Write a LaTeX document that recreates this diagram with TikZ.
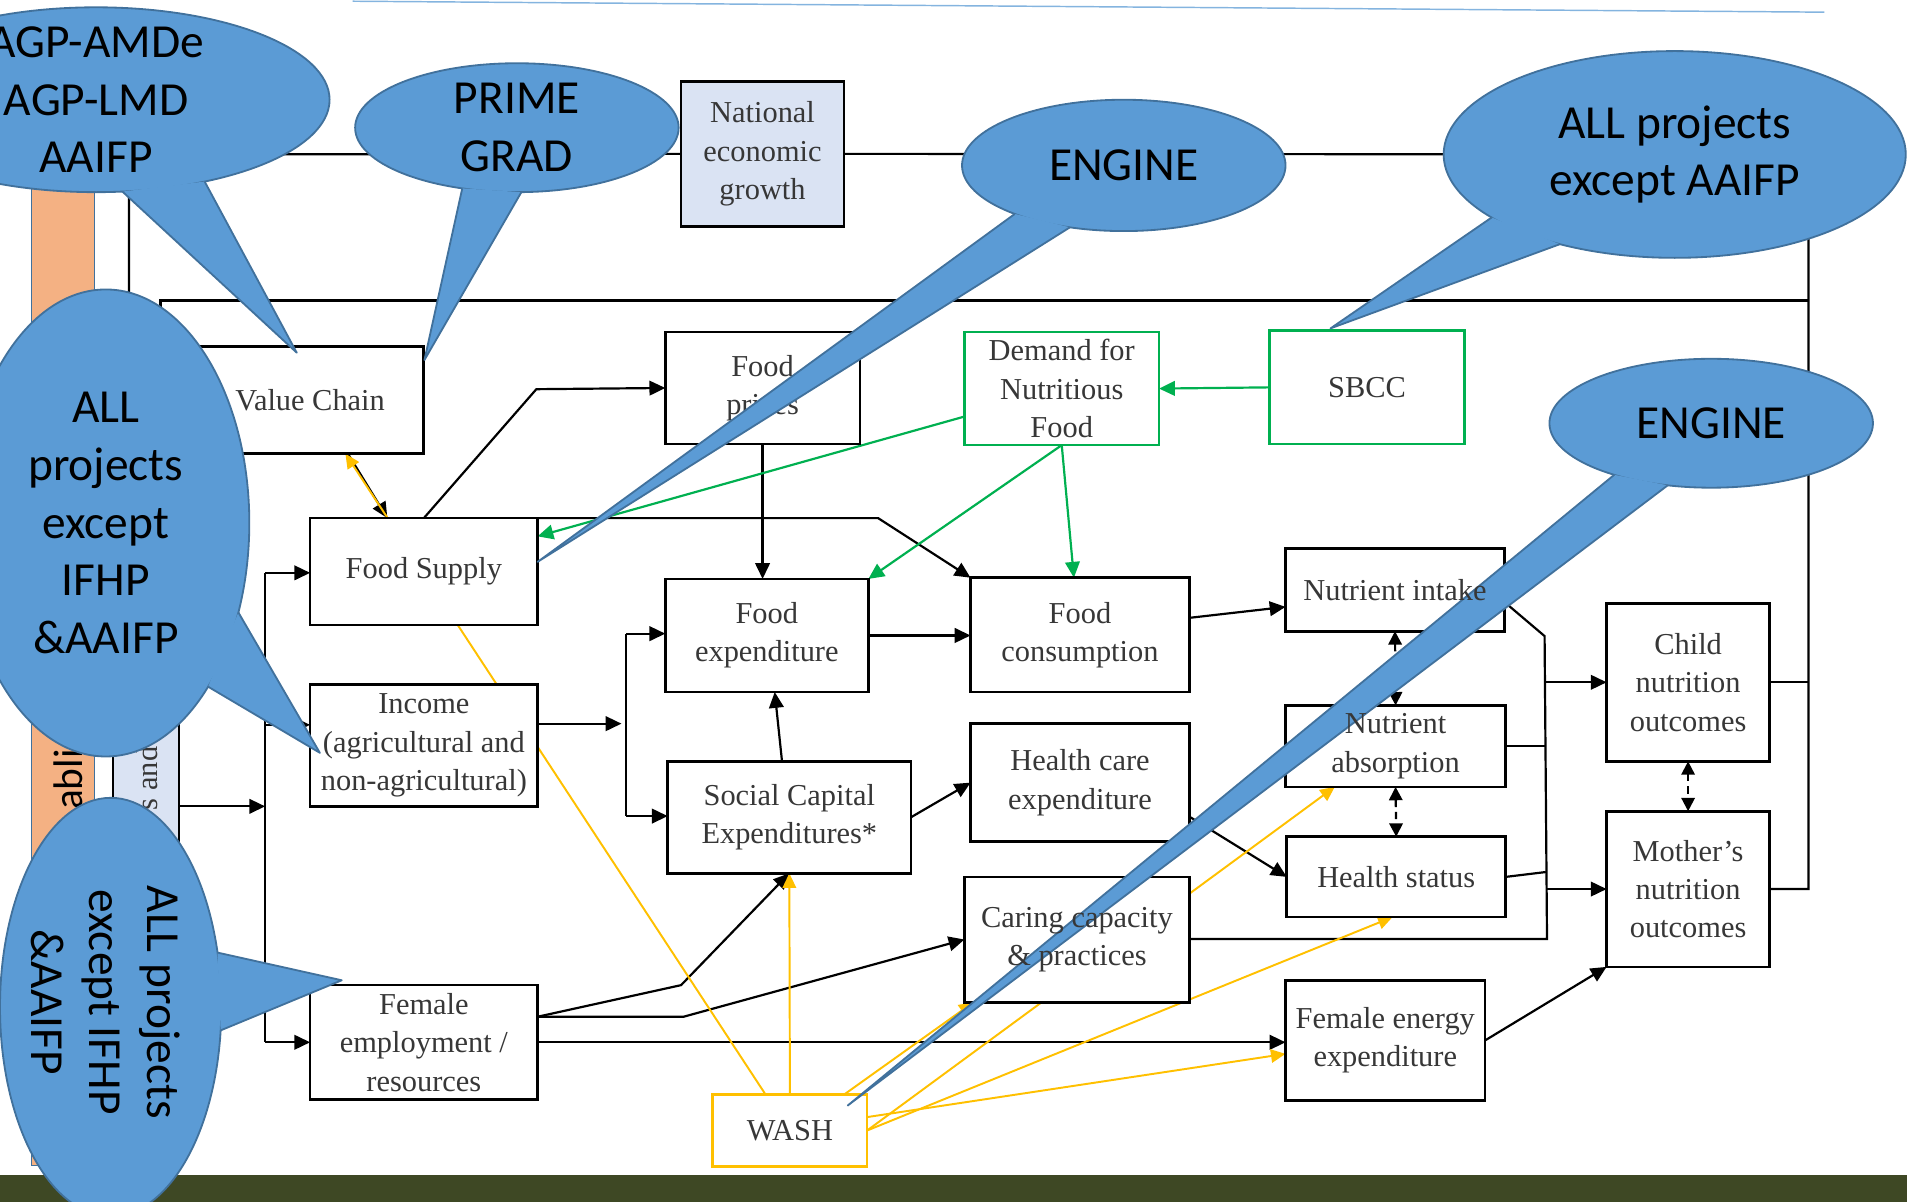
\documentclass[tikz,border=0pt]{standalone}
\usepackage{fontspec}
\setmainfont{Liberation Serif}
\newfontfamily\calloutfont{Carlito}
\usetikzlibrary{arrows.meta,shapes.geometric}
\pgfdeclarelayer{links}
\pgfsetlayers{links,main}
\definecolor{bubblefill}{RGB}{91,155,213}
\definecolor{bubbleline}{RGB}{65,113,156}
\definecolor{natblue}{RGB}{218,227,243}
\definecolor{barorange}{RGB}{244,177,131}
\definecolor{sbccgreen}{RGB}{0,176,80}
\definecolor{washgold}{RGB}{255,192,0}
\definecolor{boxtext}{RGB}{55,55,55}
\definecolor{groundolive}{RGB}{62,72,36}

\begin{document}
\begin{tikzpicture}[x=1pt, y=-1pt,
    box/.style={draw=black, line width=2.2pt, fill=white, align=center, text=boxtext,
      inner sep=0pt, outer sep=0pt, font=\fontsize{25}{31.5}\selectfont},
    boxlabel/.style={align=center, text=boxtext, inner sep=0pt, font=\fontsize{25}{31.5}\selectfont},
    greenbox/.style={box, draw=sbccgreen},
    washbox/.style={box, draw=washgold},
    plain/.style={line width=1.8pt},
    link/.style={plain, -{Triangle[length=13pt,width=12pt]}},
    greenlink/.style={link, draw=sbccgreen},
    washlink/.style={line width=1.6pt, draw=washgold, -{Triangle[length=12pt,width=11pt]}},
    twoway/.style={plain, dash pattern=on 6pt off 4pt,
      {Triangle[length=11pt,width=11pt]}-{Triangle[length=11pt,width=11pt]}},
    bubble/.style={ellipse, draw=bubbleline, line width=1.5pt, fill=bubblefill, inner sep=0pt, outer sep=0pt},
    bubbletext/.style={align=center, font=\calloutfont\fontsize{39}{47.5}\selectfont},
    pointeredge/.style={draw=bubbleline, line width=1.5pt, line join=round}]
  \useasboundingbox (0,0) rectangle (1568,988);
  \draw[bubblefill!75, line width=1.2pt] (290,1) -- (1500,10);
  \fill[groundolive] (0,966) rectangle (1568,988);

  \node[draw=bubbleline, line width=1pt, fill=barorange, minimum width=52pt, minimum height=838pt] (enablebar) at (52,539) {};
  \node[rotate=90, font=\calloutfont\fontsize{34}{40}\selectfont] (enabletext) at (56,641) {abli};
  \node[draw=black, line width=1.5pt, fill=natblue, minimum width=54pt, minimum height=360pt] (supportbar) at (120,580) {};
  \node[rotate=90, text=boxtext, font=\fontsize{25}{30}\selectfont] (supporttext) at (121,640) {s and};

  \node[box, fill=natblue, minimum width=134pt, minimum height=119pt] (natgrowth) at (627,126.5) {National\\economic\\growth};
  \node[box, minimum width=186pt, minimum height=88pt] (valuechain) at (255,329) {Value Chain};
  \node[box, minimum width=160pt, minimum height=92pt] (fprices) at (627,319) {Food\\prices};
  \node[greenbox, minimum width=160pt, minimum height=93pt] (demand) at (873,319.5) {Demand for\\Nutritious\\Food};
  \node[greenbox, minimum width=160pt, minimum height=93pt] (sbcc) at (1124,318.5) {SBCC};
  \node[box, minimum width=187pt, minimum height=88pt] (fsupply) at (348.5,470) {Food Supply};
  \node[box, minimum width=167pt, minimum height=93pt] (fexp) at (630.5,522.5) {Food\\expenditure};
  \node[box, minimum width=180pt, minimum height=94pt] (fcons) at (888,522) {Food\\consumption};
  \node[box, minimum width=180pt, minimum height=68pt] (nintake) at (1147,485) {};
  \node[box, minimum width=187pt, minimum height=100pt] (income) at (348.5,613) {Income\\(agricultural and\\non-agricultural)};
  \node[box, minimum width=200pt, minimum height=92pt] (socap) at (649,672) {Social Capital\\Expenditures*};
  \node[box, minimum width=180pt, minimum height=97pt] (hcare) at (888,643.5) {Health care\\expenditure};
  \node[box, minimum width=181pt, minimum height=67pt] (nabs) at (1147.5,613.5) {};
  \node[box, minimum width=134pt, minimum height=130pt] (child) at (1388,561) {Child\\nutrition\\outcomes};
  \node[box, minimum width=134pt, minimum height=128pt] (mother) at (1388,731) {Mother’s\\nutrition\\outcomes};
  \node[box, minimum width=180pt, minimum height=66pt] (hstatus) at (1148,721) {Health status};
  \node[box, minimum width=185pt, minimum height=103pt] (caring) at (885.5,772.5) {};
  \node[box, minimum width=187pt, minimum height=94pt] (femp) at (348.5,857) {Female\\employment /\\resources};
  \node[box, minimum width=164pt, minimum height=99pt] (fenergy) at (1139,855.5) {Female energy\\expenditure};
  \node[washbox, minimum width=127pt, minimum height=59pt] (wash) at (649.5,929.5) {WASH};

  \coordinate (tl) at (106,127);
  \coordinate (tr) at (1487,127);
  \coordinate (ml) at (132,247);
  \coordinate (mr) at (1487,247);
  \coordinate (fsbend) at (441,320);
  \coordinate (fsknee) at (722,426);
  \coordinate (busAtop) at (218,471);
  \coordinate (busAmid) at (218,596);
  \coordinate (busAin) at (218,663);
  \coordinate (busAbot) at (218,857);
  \coordinate (busBtop) at (515,521);
  \coordinate (busBin) at (511,595);
  \coordinate (busBbot) at (515,671);
  \coordinate (busCtop) at (1270,523);
  \coordinate (busCin) at (1271,717);
  \coordinate (busCbot) at (1272,772);
  \coordinate (femout) at ([yshift=21pt]femp.east);
  \coordinate (femkneeA) at (560,810);
  \coordinate (femkneeB) at (562,836);

  \begin{pgfonlayer}{links}
  \draw[plain] (supportbar.north -| tl) -- (tl) -- (natgrowth.west);
  \draw[plain] (natgrowth.east) -- (tr) -- (tr |- mother.east) -- (mother.east);
  \draw[plain] (child.east) -- (child.east -| tr);
  \draw[plain] (supportbar.north -| ml) -- (ml) -- (mr);
  \draw[link] ([xshift=31pt]valuechain.south) -- ([xshift=-30pt]fsupply.north);
  \draw[link] (fsupply.north) -- (fsbend) -- (fprices.west);
  \draw[link] (fsupply.north east) -- (fsknee) -- (fcons.north west);
  \draw[link] (fprices.south) -- (fprices.south |- fexp.north);
  \draw[link] (fexp.east) -- (fexp.east -| fcons.west);
  \draw[link] ([xshift=-6pt]socap.north) -- ([xshift=6.5pt]fexp.south);
  \draw[plain] (busAtop) -- (busAbot);
  \draw[link] (busAtop) -- (busAtop -| fsupply.west);
  \draw[link] (busAmid) -- (busAmid -| income.west);
  \draw[link] (busAbot) -- (busAbot -| femp.west);
  \draw[link] (busAin -| supportbar.east) -- (busAin);
  \draw[plain] (busBtop) -- (busBbot);
  \draw[link] (busBtop) -- (busBtop -| fexp.west);
  \draw[link] (busBbot) -- (busBbot -| socap.west);
  \draw[link] (busBin -| income.east) -- (busBin);
  \draw[link] (femout) -- (femkneeA) -- (socap.south);
  \draw[link] (femout) -- (femkneeB) -- (caring.west);
  \draw[link] (femp.east) -- (femp.east -| fenergy.west);
  \draw[link] (socap.east) -- (hcare.west);
  \draw[link] ([yshift=14pt]fcons.east) -- ([yshift=-14pt]nintake.west);
  \draw[link] ([yshift=-28pt]hcare.east) -- (hstatus.west);
  \draw[plain] ([yshift=-10pt]nintake.east) -- (busCtop) -- (busCbot) -- (busCbot -| caring.east);
  \draw[link] (child.west -| busCtop) -- (child.west);
  \draw[link] (mother.west -| busCbot) -- (mother.west);
  \draw[plain] (nabs.east) -- (nabs.east -| busCtop);
  \draw[plain] (hstatus.east) -- (busCin);
  \draw[link] (fenergy.east) -- (mother.south west);
  \draw[twoway] (nintake.south) -- (nabs.north);
  \draw[twoway] (nabs.south) -- (hstatus.north);
  \draw[twoway] (child.south) -- (mother.north);
  \draw[greenlink] (sbcc.west) -- (demand.east);
  \draw[greenlink] ([yshift=-23pt]demand.west) -- ([yshift=29pt]fsupply.east);
  \draw[greenlink] (demand.south) -- (fexp.north east);
  \draw[greenlink] (demand.south) -- ([xshift=-5pt]fcons.north);
  \draw[washlink] ([xshift=-20pt]wash.north) -- ([xshift=29pt]valuechain.south);
  \draw[washlink] (wash.north) -- (socap.south);
  \draw[washlink] ([xshift=-19pt]wash.north east) -- ([xshift=-85pt]caring.south);
  \draw[washlink] (wash.east) -- ([xshift=-50pt]nabs.south);
  \draw[washlink] (wash.east) -- ([xshift=-3pt]hstatus.south);
  \draw[washlink] ([yshift=11pt]wash.east) -- ([yshift=-11pt]fenergy.west);
  \end{pgfonlayer}

  \coordinate (agptip) at (244,290);
  \node[bubble, minimum width=384pt, minimum height=152pt] (agpbubble) at (79,82) {};
  \fill[bubblefill] (agpbubble.-74) -- (agptip) -- (agpbubble.-37) -- cycle;
  \draw[pointeredge] (agpbubble.-74) -- (agptip) -- (agpbubble.-37);
  \node[bubbletext] (agptext) at (agpbubble) {AGP-AMDe\\AGP-LMD\\AAIFP};

  \coordinate (primetip) at (349,296);
  \node[bubble, minimum width=266pt, minimum height=106pt] (primebubble) at (425,105) {};
  \fill[bubblefill] (primebubble.-132) -- (primetip) -- (primebubble.-86) -- cycle;
  \draw[pointeredge] (primebubble.-132) -- (primetip) -- (primebubble.-86);
  \node[bubbletext] (primetext) at (primebubble) {PRIME\\GRAD};

  \coordinate (enginetipA) at (442,462);
  \node[bubble, minimum width=266pt, minimum height=108pt] (enginebubbleA) at (924,136) {};
  \fill[bubblefill] (enginebubbleA.-156) -- (enginetipA) -- (enginebubbleA.-131) -- cycle;
  \draw[pointeredge] (enginebubbleA.-156) -- (enginetipA) -- (enginebubbleA.-131);
  \node[bubbletext] (enginetextA) at (enginebubbleA) {ENGINE};

  \coordinate (alltipA) at (1094,270);
  \node[bubble, minimum width=380pt, minimum height=170pt] (allbubbleA) at (1377,127) {};
  \fill[bubblefill] (allbubbleA.-161) -- (alltipA) -- (allbubbleA.-142) -- cycle;
  \draw[pointeredge] (allbubbleA.-161) -- (alltipA) -- (allbubbleA.-142);
  \node[bubbletext] (alltextA) at (allbubbleA) {ALL projects\\except AAIFP};

  \coordinate (alltipB) at (263,619);
  \node[bubble, minimum width=236pt, minimum height=384pt] (allbubbleB) at (87,430) {};
  \fill[bubblefill] (allbubbleB.-34) -- (alltipB) -- (allbubbleB.-58) -- cycle;
  \draw[pointeredge] (allbubbleB.-34) -- (alltipB) -- (allbubbleB.-58);
  \node[bubbletext] (alltextB) at (allbubbleB) {ALL\\projects\\except\\IFHP\\\&AAIFP};

  \coordinate (alltipC) at (281,806);
  \node[bubble, minimum width=182pt, minimum height=344pt] (allbubbleC) at (91,828) {};
  \fill[bubblefill] (allbubbleC.27) -- (alltipC) -- (allbubbleC.-12) -- cycle;
  \draw[pointeredge] (allbubbleC.27) -- (alltipC) -- (allbubbleC.-12);
  \node[bubbletext, rotate=-90] (alltextC) at (87,824) {ALL projects\\except IFHP\\\&AAIFP};

  \coordinate (enginetipB) at (697,909);
  \node[bubble, minimum width=266pt, minimum height=106pt] (enginebubbleB) at (1407,348) {};
  \fill[bubblefill] (enginebubbleB.-152) -- (enginetipB) -- (enginebubbleB.-125) -- cycle;
  \draw[pointeredge] (enginebubbleB.-152) -- (enginetipB) -- (enginebubbleB.-125);
  \node[bubbletext] (enginetextB) at (enginebubbleB) {ENGINE};

  \node[boxlabel] (nintaketext) at (nintake) {Nutrient intake};
  \node[boxlabel] (nabstext) at (nabs) {Nutrient\\absorption};
  \node[boxlabel] (caringtext) at (caring) {Caring capacity\\\& practices};
\end{tikzpicture}
\end{document}
